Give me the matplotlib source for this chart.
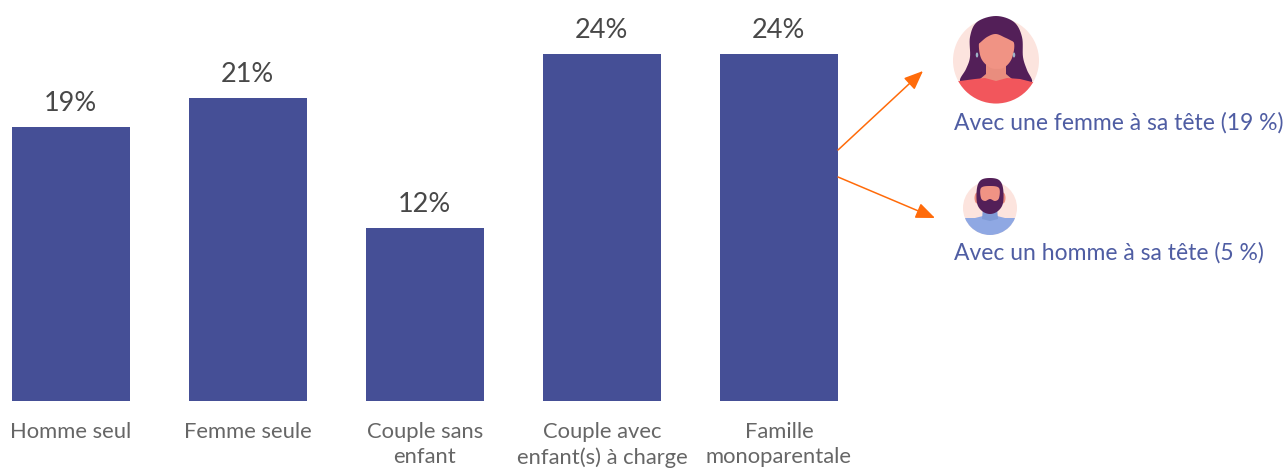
import numpy as np
import matplotlib
matplotlib.use("Agg")
import matplotlib.pyplot as plt
from matplotlib.patches import Circle, Ellipse, Polygon, FancyArrowPatch

plt.rcParams['font.family'] = ['Lato', 'DejaVu Sans']

categories = ["Homme seul", "Femme seule", "Couple sans\nenfant",
              "Couple avec\nenfant(s) à charge", "Famille\nmonoparentale"]
values = [19, 21, 12, 24, 24]
side_labels = ["Avec une femme à sa tête (19 %)", "Avec un homme à sa tête (5 %)"]

W, H = 1285, 468
BAR = "#454F96"
ORANGE = "#FF6B0A"
TXT = "#484848"
CAT = "#666666"
BLUE = "#4F5DA3"
HAIR = "#531F58"
SKIN = "#F09384"
SKIN2 = "#E98D7E"
PEACH = "#FCE4DE"


def smooth(pts, n=8):
    """Closed Catmull-Rom outline for the small portrait shapes."""
    p = np.asarray(pts, float)
    out = []
    for i in range(len(p)):
        p0, p1, p2, p3 = p[i - 1], p[i], p[(i + 1) % len(p)], p[(i + 2) % len(p)]
        for t in np.linspace(0, 1, n, endpoint=False):
            out.append(0.5 * (2 * p1 + (p2 - p0) * t + (2 * p0 - 5 * p1 + 4 * p2 - p3) * t ** 2
                              + (3 * p1 - p0 - 3 * p2 + p3) * t ** 3))
    return np.array(out)


fig = plt.figure(figsize=(W / 100, H / 100), dpi=100)
ax = fig.add_axes([0, 0, 1, 1])
ax.set_xlim((0 - 71) / 177, (W - 71) / 177)
ax.set_ylim(-(H - 401) / 14.44, 401 / 14.44)
ax.axis("off")

xs = list(range(len(values)))
ax.bar(xs, values, width=118 / 177, color=BAR)
for x, v in zip(xs, values):
    ax.annotate(f"{v}%", (x, v), xytext=(-1, 11), textcoords="offset pixels",
                ha="center", va="bottom", fontsize=19.5, color=TXT)
for x, c in zip(xs, categories):
    ax.annotate(c, (x, 0), xytext=(0, -21), textcoords="offset pixels",
                ha="center", va="top", fontsize=15.8, color=CAT, linespacing=1.34)

ov = fig.add_axes([0, 0, 1, 1], facecolor="none")
ov.set_xlim(0, W)
ov.set_ylim(H, 0)
ov.axis("off")

for start, end in [((838, 150), (923, 71)), ((838, 177), (935, 218))]:
    ov.add_patch(FancyArrowPatch(start, end, arrowstyle="-|>,head_length=0.58,head_width=0.24",
                                 mutation_scale=20, lw=1.1, color=ORANGE,
                                 shrinkA=0, shrinkB=0))

ov.text(954, 123, side_labels[0], ha="left", va="center", fontsize=16.5, color=BLUE)
ov.text(954, 253, side_labels[1], ha="left", va="center", fontsize=16.5, color=BLUE)

# woman portrait
ov.add_patch(Circle((996, 60.5), 43, fc=PEACH, ec="none"))
clip = Circle((996, 60.5), 43, transform=ov.transData)
ov.add_patch(Polygon(smooth([(996, 16), (977, 22), (970, 37), (970, 57), (966, 69), (960, 81),
                             (972, 86), (1020, 86), (1032, 82), (1027, 70), (1023, 57),
                             (1022, 37), (1014, 22)]), fc=HAIR, ec="none"))
ov.add_patch(Polygon([(986, 60), (1006, 60), (1006, 74), (1012, 79), (997, 84), (980, 79), (986, 74)],
                     fc=SKIN2, ec="none"))
shirt = Polygon([(950, 81), (960, 81), (975, 79), (985, 78), (996, 81), (1007, 78), (1020, 79), (1032, 82),
                 (1042, 82), (1042, 110), (950, 110)], fc="#F2565C", ec="none")
ov.add_patch(shirt)
shirt.set_clip_path(clip)
ov.add_patch(Polygon(smooth([(979, 43), (981, 58), (989, 67), (997, 69), (1005, 67), (1012, 58),
                             (1014, 43), (1006, 37), (996, 33), (984, 36)]), fc=SKIN, ec="none"))
ov.add_patch(Polygon(smooth([(978, 44), (982, 35), (995, 26), (1010, 30), (1016, 42),
                             (1006, 38), (996, 34), (987, 37)]), fc=HAIR, ec="none"))
ov.add_patch(Ellipse((977, 55), 2.5, 5, fc="#9DB4C8", ec="none"))
ov.add_patch(Ellipse((1014, 55), 2.5, 5, fc="#9DB4C8", ec="none"))

# man portrait
ov.add_patch(Circle((990, 208), 27, fc=PEACH, ec="none"))
clip2 = Circle((990, 208), 27, transform=ov.transData)
shirt2 = Polygon([(960, 218), (975, 218), (983, 216), (997, 216), (1005, 218), (1020, 218),
                  (1020, 240), (960, 240)], fc="#8FA8E3", ec="none")
ov.add_patch(shirt2)
shirt2.set_clip_path(clip2)
ov.add_patch(Polygon([(983, 208), (997, 208), (998, 219), (990, 221), (982, 219)], fc="#7F9AD6", ec="none"))
ov.add_patch(Ellipse((977, 198), 5, 11, fc=SKIN2, ec="none"))
ov.add_patch(Ellipse((1003, 198), 5, 11, fc=SKIN2, ec="none"))
ov.add_patch(Polygon(smooth([(990, 178), (999, 180), (1003, 188), (1003, 203), (998, 211),
                             (990, 214), (982, 211), (977, 203), (977, 188), (981, 180)]),
                     fc=HAIR, ec="none"))
ov.add_patch(Polygon(smooth([(981, 188), (990, 186), (999, 188), (999, 198), (995, 201),
                             (990, 199), (985, 201), (981, 198)]), fc=SKIN, ec="none"))

fig.savefig("out.png", dpi=100)
